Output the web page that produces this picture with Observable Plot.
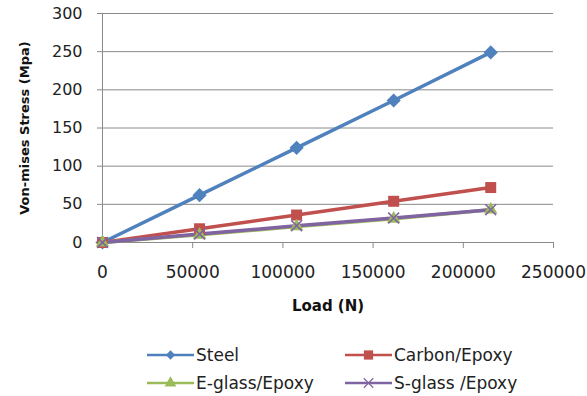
<!DOCTYPE html>
<html>
<head>
<meta charset="utf-8">
<script src="https://cdn.jsdelivr.net/npm/d3@7"></script>
<script src="https://cdn.jsdelivr.net/npm/@observablehq/plot@0.6"></script>
<style>
  html, body { margin: 0; padding: 0; background: #fff; }
  #wrap { position: relative; width: 587px; height: 396px; overflow: hidden; background: #fff; }
  #wrap svg.plot { position: absolute; left: 0; top: 0; }
  .leg { position: absolute; height: 28px; display: flex; align-items: center;
         font-family: "DejaVu Sans", sans-serif; font-size: 17px; color: #222; white-space: pre; }
  .leg svg { display: block; margin-right: 2px; }
</style>
</head>
<body>
<div id="wrap"></div>
<script>
// ---- data ----
const loads = [0, 53800, 107600, 161400, 215200];
const steel = [0, 62, 124, 186, 249];
const carbon = [0, 18, 36, 54, 72];
const eglass = [0, 10, 21, 31, 43];
const sglass = [0, 11, 22, 32, 43];
const seriesNames = ["Steel", "Carbon/Epoxy", "E-glass/Epoxy", "S-glass /Epoxy"];
const xTicks = [0, 50000, 100000, 150000, 200000, 250000];
const yTicks = [0, 50, 100, 150, 200, 250, 300];
const xTitle = "Load (N)";
const yTitle = "Von-mises Stress (Mpa)";

// ---- styles ----
const colors = ["#4F81BD", "#C0504D", "#9BBB59", "#8064A2"];
const symbols = ["diamond2", "square", "triangle", "times"];
const radii = [6.4, 6.2, 5, 5];

const seriesValues = [steel, carbon, eglass, sglass];
const rows = [];
seriesNames.forEach((name, i) => {
  loads.forEach((l, j) => rows.push({series: name, idx: i, load: l, stress: seriesValues[i][j]}));
});

const gray = "#8a8a8a";
const marks = [
  Plot.gridY(yTicks, {stroke: gray, strokeOpacity: 1, strokeWidth: 1}),
  Plot.ruleX([0], {stroke: gray, strokeWidth: 1}),
  Plot.ruleY([0], {stroke: gray, strokeWidth: 1}),
  Plot.axisX(xTicks, {tickSize: 6, tickPadding: 17, stroke: gray, fill: "#222", fontSize: 17,
                      tickFormat: d3.format("d"), label: null}),
  Plot.axisY(yTicks, {tickSize: 5, tickPadding: 15, stroke: gray, fill: "#222", fontSize: 16, label: null}),
  Plot.text([yTitle], {frameAnchor: "left", dx: -78, rotate: -90, textAnchor: "middle", lineAnchor: "middle",
                       fontWeight: "bold", fontSize: 13, fill: "#111", text: d => d}),
  Plot.text([xTitle], {frameAnchor: "bottom", dy: 64, textAnchor: "middle", lineAnchor: "middle",
                       fontWeight: "bold", fontSize: 15, fill: "#111", text: d => d})
];
seriesNames.forEach((name, i) => {
  marks.push(Plot.line(rows.filter(r => r.idx === i), {x: "load", y: "stress", stroke: colors[i], strokeWidth: 3.5}));
});
seriesNames.forEach((name, i) => {
  const data = rows.filter(r => r.idx === i);
  if (symbols[i] === "times") {
    marks.push(Plot.dot(data, {x: "load", y: "stress", symbol: symbols[i], r: radii[i], stroke: colors[i], strokeWidth: 1.6, fill: "none"}));
  } else {
    marks.push(Plot.dot(data, {x: "load", y: "stress", symbol: symbols[i], r: radii[i], fill: colors[i], stroke: "none"}));
  }
});

const chart = Plot.plot({
  width: 587,
  height: 335,
  marginLeft: 102,
  marginRight: 34,
  marginTop: 13,
  marginBottom: 93,
  style: {fontFamily: "DejaVu Sans, sans-serif", fontSize: "16px", background: "#fff", overflow: "visible"},
  x: {domain: [0, 250000]},
  y: {domain: [0, 300]},
  marks
});
const wrap = document.getElementById("wrap");
wrap.appendChild(chart);

// ---- legend ----
const legPos = [[147, 341], [345, 341], [147, 369], [345, 369]];
const symMap = {diamond2: d3.symbolDiamond2, square: d3.symbolSquare, triangle: d3.symbolTriangle, times: d3.symbolTimes};
const legSizes = [55, 85, 60, 60];
seriesNames.forEach((name, i) => {
  const item = document.createElement("div");
  item.className = "leg";
  item.style.left = legPos[i][0] + "px";
  item.style.top = legPos[i][1] + "px";
  const sw = d3.create("svg").attr("width", 47).attr("height", 20);
  sw.append("line").attr("x1", 0).attr("x2", 47).attr("y1", 10).attr("y2", 10)
    .attr("stroke", colors[i]).attr("stroke-width", 2.5);
  const p = sw.append("path").attr("transform", "translate(23.5,10)")
    .attr("d", d3.symbol(symMap[symbols[i]], legSizes[i])());
  if (symbols[i] === "times") p.attr("fill", "none").attr("stroke", colors[i]).attr("stroke-width", 1.2);
  else p.attr("fill", colors[i]);
  item.appendChild(sw.node());
  const t = document.createElement("span");
  t.textContent = name;
  item.appendChild(t);
  wrap.appendChild(item);
});
</script>
</body>
</html>
